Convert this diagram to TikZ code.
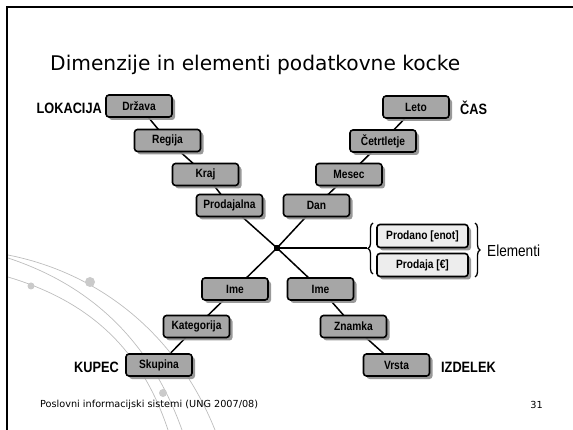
\documentclass[tikz,border=0pt]{standalone}
\usepackage{fontspec}
\setmainfont{DejaVu Sans}
\newfontfamily\boxfont[FakeStretch=0.85]{Liberation Sans}
\usetikzlibrary{shadows,decorations.pathreplacing,backgrounds}
\definecolor{boxgray}{HTML}{A6A6A6}
\definecolor{elgray}{HTML}{EDEDED}
\definecolor{shadowgray}{HTML}{8E8E8E}
\definecolor{decogray}{HTML}{BDBDBD}
\definecolor{dotgray}{HTML}{CACACA}
\tikzset{
  dimbox/.style={draw=black, line width=1.6pt, rounded corners=3pt, fill=boxgray,
    minimum width=66pt, minimum height=22pt, inner sep=0pt,
    font=\boxfont\bfseries\fontsize{12}{12}\selectfont,
    drop shadow={shadow xshift=3pt, shadow yshift=-3pt, fill=shadowgray, opacity=0.9}},
  elbox/.style={dimbox, fill=elgray, minimum width=91pt, minimum height=23pt},
  conn/.style={draw=black, line width=1.5pt},
  dimlabel/.style={inner sep=0pt, font=\boxfont\bfseries\fontsize{15}{15}\selectfont},
  deco/.style={draw=decogray, line width=0.7pt},
  decodot/.style={fill=dotgray, draw=none},
  bracestyle/.style={draw=black, line width=1.3pt, decorate, decoration={brace, amplitude=5pt}}
}
\begin{document}
\begin{tikzpicture}[x=1pt, y=-1pt]
\useasboundingbox (0,0) rectangle (573,430);
% decorative curves
\draw[deco] (8,255) .. controls (95,272) and (175,330) .. (215,430);
\draw[deco] (8,258) .. controls (90,285) and (150,340) .. (182,430);
\draw[deco] (8,277) .. controls (85,300) and (140,345) .. (168,430);
\fill[decodot] (90,282) circle (5);
\fill[decodot] (31,286) circle (3.5);
\fill[decodot] (163,393) circle (4);
% frame
\draw[line width=1.5pt] (7,430) -- (7,7) -- (573,7);
% title
\node[anchor=base west, inner sep=0pt, font=\fontsize{20.2}{24}\selectfont] (title) at (50,71) {Dimenzije in elementi podatkovne kocke};
% boxes
\node[dimbox] (drz) at (139,106) {Država};
\node[dimbox] (reg) at (167.5,140.5) {Regija};
\node[dimbox] (kra) at (205.5,174.5) {Kraj};
\node[dimbox] (pro) at (229.5,205.5) {Prodajalna};
\node[dimbox] (let) at (416,107) {Leto};
\node[dimbox] (cet) at (383,141) {Četrtletje};
\node[dimbox] (mes) at (349,174.5) {Mesec};
\node[dimbox] (dan) at (316.5,205.5) {Dan};
\node[dimbox] (imel) at (235,289) {Ime};
\node[dimbox] (kat) at (196.5,326.5) {Kategorija};
\node[dimbox] (sku) at (159,365) {Skupina};
\node[dimbox] (imer) at (320.5,289) {Ime};
\node[dimbox] (zna) at (353.5,326.5) {Znamka};
\node[dimbox] (vrs) at (396.5,365) {Vrsta};
\node[elbox] (enot) at (422.5,236) {Prodano [enot]};
\node[elbox] (eur) at (422.5,265) {Prodaja [€]};
% junction
\node[fill=black, minimum size=6pt, inner sep=0pt] (c) at (277,248) {};
% labels
\node[dimlabel, anchor=east] (lok) at (102,108) {LOKACIJA};
\node[dimlabel, anchor=west] (cas) at (460,108) {ČAS};
\node[dimlabel, anchor=east] (kup) at (119,367) {KUPEC};
\node[dimlabel, anchor=west] (izd) at (441,367) {IZDELEK};
\node[inner sep=0pt, anchor=west, font=\boxfont\fontsize{16}{16}\selectfont] (elem) at (487,251) {Elementi};
% braces
\coordinate (lbt) at (367,248);
\draw[bracestyle] (373,274) -- (373,223);
\draw[bracestyle] (475,223) -- (475,277);
% footer
\node[inner sep=0pt, anchor=west, font=\fontsize{9.7}{11}\selectfont] (foot) at (40,405) {Poslovni informacijski sistemi (UNG 2007/08)};
\node[inner sep=0pt, anchor=east, font=\fontsize{9.7}{11}\selectfont] (page) at (543,405) {31};
% connectors
\begin{scope}[on background layer]
\draw[conn] (drz.center) -- (reg.center) -- (kra.center) -- (pro.center) -- (c.center);
\draw[conn] (let.center) -- (cet.center) -- (mes.center) -- (dan.center) -- (c.center);
\draw[conn] (c.center) -- (imel.center) -- (kat.center) -- (sku.center);
\draw[conn] (c.center) -- (imer.center) -- (zna.center) -- (vrs.center);
\draw[conn] (c.center) -- (lbt);
\end{scope}
\end{tikzpicture}
\end{document}
